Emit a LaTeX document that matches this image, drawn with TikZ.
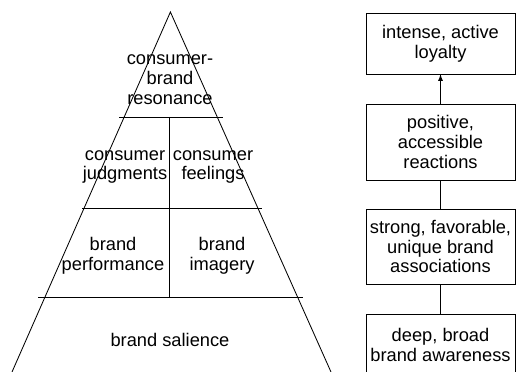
\documentclass[tikz,border=0pt]{standalone}
\usepackage{fontspec}
\setmainfont{Liberation Sans}
\usetikzlibrary{arrows}
\usetikzlibrary{positioning}
\tikzstyle{fleche} = [->,>=latex,line width=0.6pt]
\tikzstyle{boite} = [draw,line width=0.5pt,minimum width=3.725cm,align=center,inner sep=0pt]
\tikzstyle{etage} = [align=center,inner sep=0pt]

\begin{document}
\begin{tikzpicture}[line width=0.6pt, every node/.style={font=\fontsize{13pt}{14.2pt}\selectfont}]
	\useasboundingbox (0,0) rectangle (12.9,9.3);

	% la pyramide
	\coordinate (S) at (4.26,9.0);
	\coordinate (G) at (0.3,0);
	\coordinate (D) at (8.275,0);
	\draw (G) -- (S) -- (D);

	\draw (2.975,6.375) -- (5.575,6.375);
	\draw (2.05,4.1) -- (6.55,4.1);
	\draw (0.95,1.8625) -- (7.575,1.8625);
	\draw (4.225,6.375) -- (4.225,1.8625);

	\node[etage] (R) at (4.25,7.3) {consumer-\\brand\\resonance};
	\node[etage] (J) at (3.125,5.125) {consumer\\judgments};
	\node[etage] (F) at (5.325,5.125) {consumer\\feelings};
	\node[etage] (P) at (2.825,2.9125) {brand\\performance};
	\node[etage] (I) at (5.55,2.9125) {brand\\imagery};
	\node[etage] (SA) at (4.25,0.8) {brand salience};


	% les boites
	\node[boite, minimum height=1.525cm] (B1) at (11.0125,8.2125) {intense, active\\loyalty};
	\node[boite, minimum height=1.9cm] (B2) at (11.0125,5.75) {positive,\\accessible\\reactions};
	\node[boite, minimum height=1.875cm] (B3) at (11.0125,3.1375) {strong, favorable,\\unique brand\\associations};
	\node[boite, minimum height=1.525cm] (B4) at (11.0125,0.6875) {deep, broad\\brand awareness};

	\draw[fleche] (B2) -- (B1);
	\draw (B3) -- (B2);
	\draw (B4) -- (B3);

\end{tikzpicture}
\end{document}
